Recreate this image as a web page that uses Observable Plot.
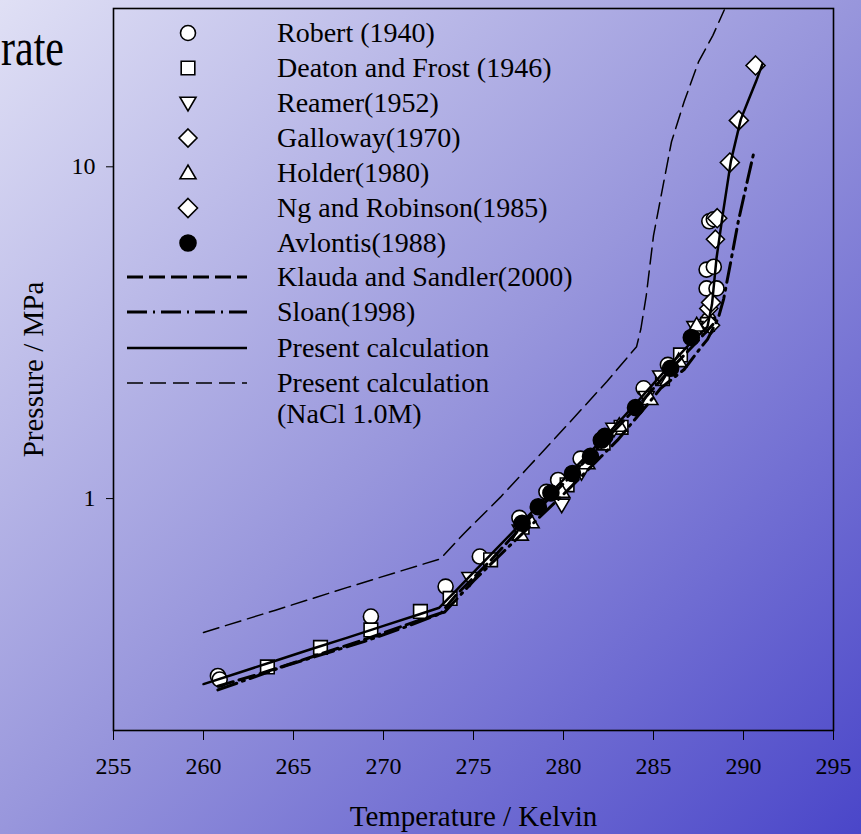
<!DOCTYPE html>
<html>
<head>
<meta charset="utf-8">
<script src="https://cdn.jsdelivr.net/npm/d3@7"></script>
<script src="https://cdn.jsdelivr.net/npm/@observablehq/plot@0.6"></script>
<style>
html, body { margin: 0; padding: 0; }
body {
  width: 861px; height: 834px; overflow: hidden; position: relative;
  background: linear-gradient(to bottom right, #e0e0f5 0%, #9896dc 50%, #4a46c9 100%);
  font-family: "Liberation Serif", "Times New Roman", serif; color: #000;
}
#chart { position: absolute; left: 0; top: 0; }
#chart svg { background: transparent !important; }
#rate { position: absolute; left: 1px; top: 21px; font-size: 42px; line-height: 42px; white-space: nowrap; transform: scaleY(1.25); transform-origin: 0 0; }
#legend { position: absolute; left: 0; top: 0; width: 861px; height: 834px; pointer-events: none; }
.lrow { position: absolute; left: 277px; height: 36px; line-height: 36px; font-size: 28px; white-space: nowrap; }
.lsw { position: absolute; left: 120px; width: 135px; height: 36px; }
</style>
</head>
<body>
<div id="rate">rate</div>
<div id="chart"></div>
<div id="legend"></div>
<script>
// ---------- data ----------
const xTicks = [255, 260, 265, 270, 275, 280, 285, 290, 295];
const yTicks = [1, 10];
const xTitle = "Temperature / Kelvin";
const yTitle = "Pressure / MPa";

const legendLabels = ["Robert (1940)", "Deaton and Frost (1946)", "Reamer(1952)", "Galloway(1970)",
  "Holder(1980)", "Ng and Robinson(1985)", "Avlontis(1988)", "Klauda and Sandler(2000)",
  "Sloan(1998)", "Present calculation", "Present calculation", "(NaCl 1.0M)"];

// experimental points (T in K, P in MPa)
const robertT = [260.8, 260.9, 269.3, 273.45, 275.35, 277.55, 279.05, 279.7, 280.95, 284.45, 285.8, 287.7, 288.05, 287.95, 288.5, 287.95, 288.35, 288.1, 288.35];
const robertP = [0.292, 0.285, 0.441, 0.543, 0.669, 0.875, 1.048, 1.138, 1.32, 2.15, 2.53, 3.3, 3.45, 4.3, 4.3, 4.9, 5.0, 6.85, 6.95];

const deatonT = [263.55, 266.5, 269.3, 272.05, 273.7, 275.95, 277.7, 280.2, 282.2, 283.2, 285.5, 286.5, 288.0];
const deatonP = [0.311, 0.356, 0.402, 0.457, 0.50, 0.654, 0.82, 1.1, 1.47, 1.64, 2.3, 2.71, 3.35];

const reamerT = [274.8, 277.6, 279.9, 281.0, 282.8, 284.6, 285.4, 287.3];
const reamerP = [0.575, 0.8, 0.957, 1.2, 1.62, 2.02, 2.33, 3.28];

const gallowayT = [288.07, 288.17, 288.44];
const gallowayP = [3.74, 3.33, 6.05];

const holderT = [277.6, 278.2, 279.9, 281.3, 283.1, 284.8, 286.4, 287.4];
const holderP = [0.78, 0.85, 1.05, 1.28, 1.66, 2.0, 2.6, 3.33];

const ngT = [288.2, 288.54, 289.24, 289.74, 290.67];
const ngP = [3.9, 7.0, 10.3, 13.8, 20.2];

const avlontisT = [277.7, 278.6, 279.3, 280.5, 281.5, 282.1, 282.3, 284.0, 285.95, 287.1];
const avlontisP = [0.843, 0.945, 1.04, 1.19, 1.34, 1.5, 1.54, 1.88, 2.47, 3.06];

// model curves
const presentT = [260, 262, 264, 266, 268, 270, 272, 273.1, 274, 275, 276, 277, 278, 279, 280, 281, 282, 283, 284, 285, 286, 287, 288.0, 288.25, 288.5, 288.85, 289.3, 289.85, 290.3, 290.7, 291.05];
const presentP = [0.276, 0.299, 0.3245, 0.352, 0.381, 0.4135, 0.448, 0.469, 0.526, 0.599, 0.681, 0.775, 0.882, 1.003, 1.141, 1.298, 1.477, 1.683, 1.93, 2.22, 2.55, 2.92, 3.3, 3.85, 5.3, 7.2, 10.4, 13.9, 16.0, 18.1, 20.4];

const klaudaT = [260.8, 263, 266, 269, 272, 273.2, 274, 276, 278, 280, 282, 284, 286, 287.5, 288.3];
const klaudaP = [0.272, 0.295, 0.333, 0.377, 0.43, 0.452, 0.51, 0.655, 0.86, 1.11, 1.44, 1.87, 2.47, 3.0, 3.35];

const sloanT = [260.8, 264.6, 269, 271.2, 273.4, 275, 277, 280, 283, 285, 285.4, 286.7, 287.6, 288.0, 288.6, 288.9, 289.3, 289.7, 290.2, 290.6];
const sloanP = [0.265, 0.314, 0.372, 0.41, 0.455, 0.565, 0.72, 1.03, 1.5, 2.02, 2.15, 2.45, 2.84, 3.02, 3.5, 4.0, 5.2, 6.8, 9.0, 11.2];

const naclT = [260, 264, 268, 273.15, 274.5, 276.5, 278, 280, 282.4, 284.06, 284.3, 284.6, 285.0, 285.5, 286.0, 286.7, 287.5, 288.3, 288.93];
const naclP = [0.395, 0.461, 0.54, 0.658, 0.788, 1.01, 1.236, 1.62, 2.25, 2.87, 3.25, 4.1, 6.2, 8.6, 11.9, 15.7, 20.7, 24.9, 29.7];

// ---------- helpers ----------
const zip = (T, P) => T.map((t, i) => ({t, p: P[i]}));

function shape(points) {
  return {draw(ctx, size) {
    const s = Math.sqrt(size / Math.PI);
    points.forEach(([a, b], i) => i ? ctx.lineTo(a * s, b * s) : ctx.moveTo(a * s, b * s));
    ctx.closePath();
  }};
}
const symCircle = {draw(ctx, size) { const r = Math.sqrt(size / Math.PI); ctx.moveTo(r, 0); ctx.arc(0, 0, r, 0, 2 * Math.PI); ctx.closePath(); }};
const symSquare = shape([[-1, -1], [1, -1], [1, 1], [-1, 1]]);
const symTriDown = shape([[-1, -0.72], [1, -0.72], [0, 0.98]]);
const symTriUp = shape([[-1, 0.72], [1, 0.72], [0, -0.98]]);
const symDiamond = shape([[0, -1], [1, 0], [0, 1], [-1, 0]]);

const pointSets = [
  {data: zip(robertT, robertP), symbol: symCircle, r: 7.5, fill: "white"},
  {data: zip(deatonT, deatonP), symbol: symSquare, r: 6.8, fill: "white"},
  {data: zip(reamerT, reamerP), symbol: symTriDown, r: 8, fill: "white"},
  {data: zip(gallowayT, gallowayP), symbol: symDiamond, r: 9, fill: "white"},
  {data: zip(holderT, holderP), symbol: symTriUp, r: 8, fill: "white"},
  {data: zip(ngT, ngP), symbol: symDiamond, r: 9.5, fill: "white"},
  {data: zip(avlontisT, avlontisP), symbol: symCircle, r: 8, fill: "black"}
];

const lineSets = [
  {data: zip(klaudaT, klaudaP), strokeWidth: 3, dash: "16,6"},
  {data: zip(sloanT, sloanP), strokeWidth: 3, dash: "20,6,2,6"},
  {data: zip(presentT, presentP), strokeWidth: 2.5, dash: null},
  {data: zip(naclT, naclP), strokeWidth: 1.5, dash: "16,7"}
];

const marks = [];
for (const s of pointSets) {
  marks.push(Plot.dot(s.data, {x: "t", y: "p", symbol: s.symbol, r: s.r, fill: s.fill, stroke: "black", strokeWidth: 1.6}));
}
for (const l of lineSets) {
  const o = {x: "t", y: "p", stroke: "black", strokeWidth: l.strokeWidth};
  if (l.dash) o.strokeDasharray = l.dash;
  marks.push(Plot.line(l.data, o));
}
marks.push(Plot.frame({stroke: "black", strokeWidth: 1.6}));
marks.push(Plot.text([xTitle], {text: d => d, frameAnchor: "bottom", textAnchor: "middle", dy: 95, fontSize: 29}));
marks.push(Plot.text([yTitle], {text: d => d, frameAnchor: "left", textAnchor: "middle", dx: -80, rotate: -90, fontSize: 29}));

const chart = Plot.plot({
  width: 861, height: 834,
  marginLeft: 113, marginRight: 28, marginTop: 8, marginBottom: 104,
  style: {background: "transparent", fontFamily: "'Liberation Serif', 'Times New Roman', serif", fontSize: "24px", color: "black", overflow: "visible"},
  x: {domain: [255, 295], ticks: xTicks, tickSize: 10, tickPadding: 16, tickFormat: d => String(d), label: null},
  y: {type: "log", domain: [0.2, 30], ticks: yTicks, tickSize: 7, tickPadding: 11, tickFormat: d => String(d), label: null},
  marks
});
document.getElementById("chart").appendChild(chart);

// ---------- legend (inside plot area, top-left) ----------
const legendSym = [
  {symbol: symCircle, r: 7.5, fill: "white"},
  {symbol: symSquare, r: 6.8, fill: "white"},
  {symbol: symTriDown, r: 8, fill: "white"},
  {symbol: symDiamond, r: 9, fill: "white"},
  {symbol: symTriUp, r: 8, fill: "white"},
  {symbol: symDiamond, r: 9.5, fill: "white"},
  {symbol: symCircle, r: 8, fill: "black"},
  {line: true, strokeWidth: 3, dash: "16,6"},
  {line: true, strokeWidth: 3, dash: "20,6,2,6"},
  {line: true, strokeWidth: 2.5, dash: null},
  {line: true, strokeWidth: 1.5, dash: "16,7"},
  null
];
const rowCenters = [33, 68, 103, 138, 173, 208, 243, 277, 312, 348, 383, 414];
const legend = document.getElementById("legend");
legendLabels.forEach((lab, i) => {
  const cy = rowCenters[i];
  const row = document.createElement("div");
  row.className = "lrow";
  row.style.top = (cy - 18) + "px";
  row.textContent = lab;
  legend.appendChild(row);
  const st = legendSym[i];
  if (!st) return;
  let inner;
  if (st.line) {
    inner = `<line x1="7" x2="127" y1="18" y2="18" stroke="black" stroke-width="${st.strokeWidth}"${st.dash ? ` stroke-dasharray="${st.dash}"` : ""}/>`;
  } else {
    const p = d3.path();
    st.symbol.draw(p, st.r * st.r * Math.PI);
    inner = `<path transform="translate(68,18)" d="${p.toString()}" fill="${st.fill}" stroke="black" stroke-width="1.6"/>`;
  }
  const sw = document.createElement("div");
  sw.className = "lsw";
  sw.style.top = (cy - 18) + "px";
  sw.innerHTML = `<svg width="135" height="36" viewBox="0 0 135 36">${inner}</svg>`;
  legend.appendChild(sw);
});
</script>
</body>
</html>
